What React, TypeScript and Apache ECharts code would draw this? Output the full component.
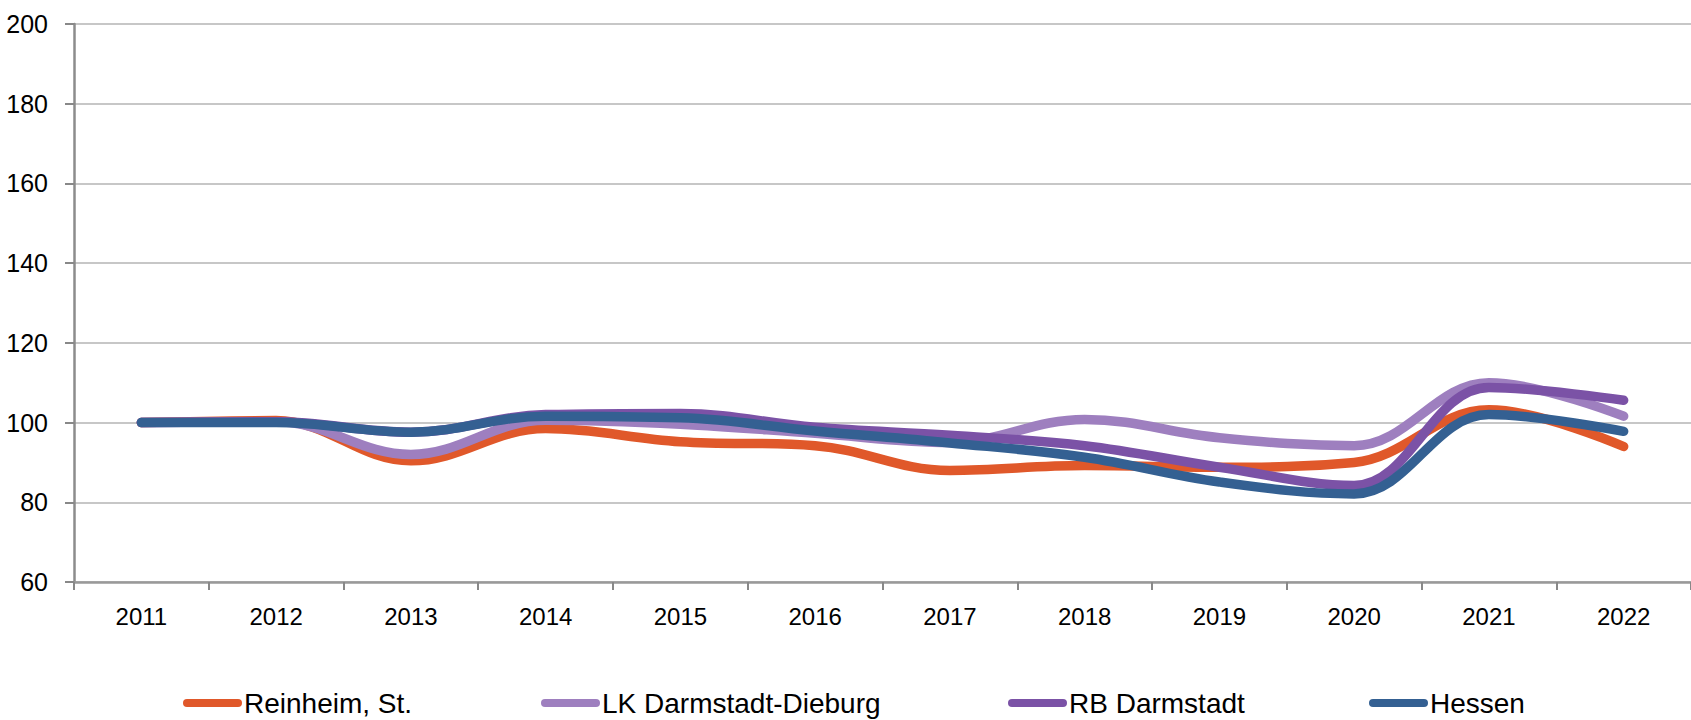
import React, { useEffect, useRef } from "react";
import * as echarts from "echarts";

const years = ["2011", "2012", "2013", "2014", "2015", "2016", "2017", "2018", "2019", "2020", "2021", "2022"];
const seriesNames = ["Reinheim, St.", "LK Darmstadt-Dieburg", "RB Darmstadt", "Hessen"];
const reinheim = [100, 100.5, 90.4, 98.5, 95.2, 94.2, 88.0, 89.2, 88.8, 90.0, 103.2, 94.0];
const lkDarmstadt = [100, 100.2, 92.0, 100.6, 99.6, 97.3, 95.0, 100.8, 96.2, 94.2, 110.0, 101.6];
const rbDarmstadt = [100, 100.2, 97.6, 102.0, 102.3, 98.8, 96.8, 94.2, 88.8, 84.2, 108.8, 105.6];
const hessen = [100, 100.0, 97.6, 101.6, 101.2, 97.9, 94.9, 91.3, 85.1, 82.1, 102.0, 97.8];
const seriesColors = ["#E0582A", "#9E7FBF", "#7B52A6", "#346092"];
const yTicks = { min: 60, max: 200, interval: 20 };

const FONT = "'Liberation Sans', Arial, sans-serif";
const PILL = "path://M4,0 L55,0 A4,4 0 0 1 55,8 L4,8 A4,4 0 0 1 4,0 Z";

export default function App() {
  const ref = useRef<HTMLDivElement>(null);
  useEffect(() => {
    if (!ref.current) return;
    const chart = echarts.init(ref.current, undefined, { renderer: "svg" });
    const data = [reinheim, lkDarmstadt, rbDarmstadt, hessen];
    const legendLefts = [178, 536, 1003, 1364];
    chart.setOption({
      animation: false,
      backgroundColor: "#ffffff",
      grid: { left: 74, top: 24, bottom: 138, right: -4, containLabel: false },
      legend: seriesNames.map((n, i) => ({
        data: [n],
        left: legendLefts[i],
        top: 684,
        icon: PILL,
        itemWidth: 59,
        itemHeight: 8,
        itemGap: 0,
        textStyle: { fontFamily: FONT, fontSize: 28, color: "#000", padding: [0, 0, 0, -3] },
      })),
      xAxis: {
        type: "category",
        data: years,
        boundaryGap: true,
        axisLine: { lineStyle: { color: "#999999", width: 2.5 } },
        axisTick: { show: true, length: 8, lineStyle: { color: "#888888", width: 2 } },
        axisLabel: { fontFamily: FONT, fontSize: 24, color: "#000", margin: 22 },
        splitLine: { show: false },
      },
      yAxis: {
        type: "value",
        min: yTicks.min,
        max: yTicks.max,
        interval: yTicks.interval,
        axisLine: { show: true, lineStyle: { color: "#8c8c8c", width: 2.5 } },
        axisTick: { show: true, length: 9, lineStyle: { color: "#888888", width: 2 } },
        axisLabel: { fontFamily: FONT, fontSize: 25, color: "#000", margin: 26 },
        splitLine: { show: true, lineStyle: { color: "#b4b4b4", width: 1.5 } },
      },
      series: seriesNames.map((n, i) => ({
        name: n,
        type: "line",
        data: data[i],
        smooth: 0.38,
        symbol: "none",
        showSymbol: false,
        color: seriesColors[i],
        lineStyle: { color: seriesColors[i], width: 9.5, cap: "round", join: "round" },
        itemStyle: { color: seriesColors[i] },
      })),
    });
    return () => chart.dispose();
  }, []);
  return (
    <div
      ref={ref}
      style={{ position: "fixed", left: 0, top: 0, width: 1691, height: 720, background: "#fff" }}
    />
  );
}
